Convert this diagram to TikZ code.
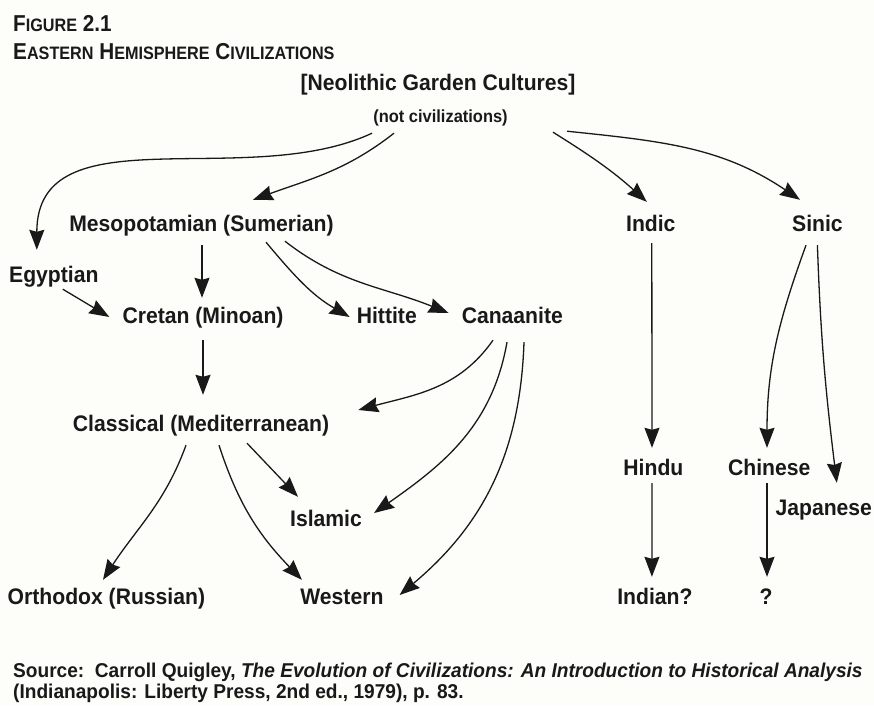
\documentclass[tikz,border=0pt]{standalone}
\usepackage{fontspec}
\setmainfont{Liberation Sans}
\newfontfamily\labfont[FakeStretch=0.94]{Liberation Sans}
\newfontfamily\titlefont[FakeStretch=0.9]{Liberation Sans}
\newfontfamily\srcfont[FakeStretch=0.955]{Liberation Sans}
\usetikzlibrary{arrows.meta}
\definecolor{paper}{RGB}{253,253,249}
\definecolor{ink}{RGB}{25,25,25}
\newcommand{\lowcap}[1]{{\fontsize{18}{20}\selectfont #1}}

\begin{document}
\begin{tikzpicture}[x=1pt,y=1pt,
    lab/.style={anchor=base,inner sep=0pt,text height=17pt,text depth=5pt,text=ink,font=\labfont\bfseries\fontsize{22.5}{27}\selectfont},
    sub/.style={anchor=base,inner sep=0pt,text height=13pt,text depth=4.5pt,text=ink,font=\labfont\bfseries\fontsize{17.5}{22}\selectfont},
    head/.style={anchor=base west,inner sep=0pt,text=ink,font=\titlefont\bfseries\fontsize{23}{27}\selectfont},
    src/.style={anchor=base west,inner sep=0pt,text=ink,font=\srcfont\bfseries\fontsize{20}{22}\selectfont}]
  \fill[paper] (0,0) rectangle (874,-706);
  \useasboundingbox (0,0) rectangle (874,-706);

  \node[head] (fig)   at (13,-32)      {F\lowcap{IGURE} 2.1};
  \node[head] (title) at (13,-60)      {E\lowcap{ASTERN} H\lowcap{EMISPHERE} C\lowcap{IVILIZATIONS}};

  \node[lab] (neo)    at (438,-91)     {[Neolithic Garden Cultures]};
  \node[sub] (civ)    at (440.5,-122)  {(not civilizations)};
  \node[lab] (meso)   at (201.5,-231)  {Mesopotamian (Sumerian)};
  \node[lab] (indic)  at (650.8,-231)  {Indic};
  \node[lab] (sinic)  at (817.4,-231)  {Sinic};
  \node[lab] (egy)    at (53.8,-282)   {Egyptian};
  \node[lab] (cret)   at (203,-323)    {Cretan (Minoan)};
  \node[lab] (hitt)   at (386.8,-323)  {Hittite};
  \node[lab] (cana)   at (512.3,-323)  {Canaanite};
  \node[lab] (clas)   at (201,-431)    {Classical (Mediterranean)};
  \node[lab] (hindu)  at (653.4,-475)  {Hindu};
  \node[lab] (chin)   at (769.3,-475)  {Chinese};
  \node[lab] (japa)   at (823.8,-515)  {Japanese};
  \node[lab] (isla)   at (326,-526)    {Islamic};
  \node[lab] (orth)   at (106.4,-604)  {Orthodox (Russian)};
  \node[lab] (west)   at (341.9,-604)  {Western};
  \node[lab] (indian) at (654.9,-604)  {Indian?};
  \node[lab] (quest)  at (766,-604)    {?};

  \node[src] (srcA)   at (13,-677)     {Source:\ \ Carroll Quigley, \textit{The Evolution of Civilizations: An Introduction to Historical Analysis}};
  \node[src] (srcB)   at (13,-698)     {(Indianapolis: Liberty Press, 2nd ed., 1979), p. 83.};

  \tikzset{link/.style={-{Stealth[length=20pt,width=15pt,inset=2pt]},line width=1.3pt,draw=ink}}
  \path ([shift={(-68.5,-6.5)}]civ.south)  edge [link,out=205,in=90]  ([shift={(-17,15)}]egy.north)
        ([shift={(-46.5,-6.5)}]civ.south)  edge [link,out=218,in=20]  ([shift={(51.5,14)}]meso.north)
        ([shift={(112.5,-5.5)}]civ.south)  edge [link,out=-32,in=138] ([shift={(-4,12)}]indic.north)
        ([shift={(126.5,-4.5)}]civ.south)  edge [link,out=-6,in=146]  ([shift={(-17.4,14)}]sinic.north)
        ([shift={(0.5,-9)}]meso.south)     edge [link]                ([shift={(-1,8)}]cret.north)
        ([shift={(64.5,-6)}]meso.south)    edge [link,out=-50,in=150] ([shift={(-7,0)}]hitt.west)
        ([shift={(83.5,-5)}]meso.south)    edge [link,out=-38,in=158] ([shift={(-13,4)}]cana.west)
        ([shift={(9,-2)}]egy.south)        edge [link]                ([shift={(-13,0)}]cret.west)
        ([shift={(0,-12)}]cret.south)      edge [link]                ([shift={(2,19)}]clas.north)
        ([shift={(-19.3,-12)}]cana.south)  edge [link,out=235,in=15]  ([shift={(29,15)}]clas.east)
        ([shift={(-5.3,-14)}]cana.south)   edge [link,out=260,in=35]  ([shift={(12,7)}]isla.east)
        ([shift={(11.7,-14)}]cana.south)   edge [link,out=268,in=40]  ([shift={(16,3)}]west.east)
        ([shift={(-15,-9)}]clas.south)     edge [link,out=250,in=57]  ([shift={(-3.4,7)}]orth.north)
        ([shift={(18,-9)}]clas.south)      edge [link,out=-72,in=134] ([shift={(-40,7)}]west.north)
        ([shift={(46,-7)}]clas.south)      edge [link]                ([shift={(-28,12)}]isla.north)
        ([shift={(1,-7)}]indic.south)      edge [link]                ([shift={(-1.4,10)}]hindu.north)
        ([shift={(-11.4,-9)}]sinic.south)  edge [link,out=250,in=90]  ([shift={(-2.3,10)}]chin.north)
        ([shift={(0,-9)}]sinic.south)      edge [link,out=-88,in=97]  ([shift={(13,15)}]japa.north)
        ([shift={(-1.4,-3)}]hindu.south)   edge [link]                ([shift={(-3,10)}]indian.north)
        ([shift={(-2.3,-3)}]chin.south)    edge [link]                ([shift={(1,10)}]quest.north);
\end{tikzpicture}
\end{document}
